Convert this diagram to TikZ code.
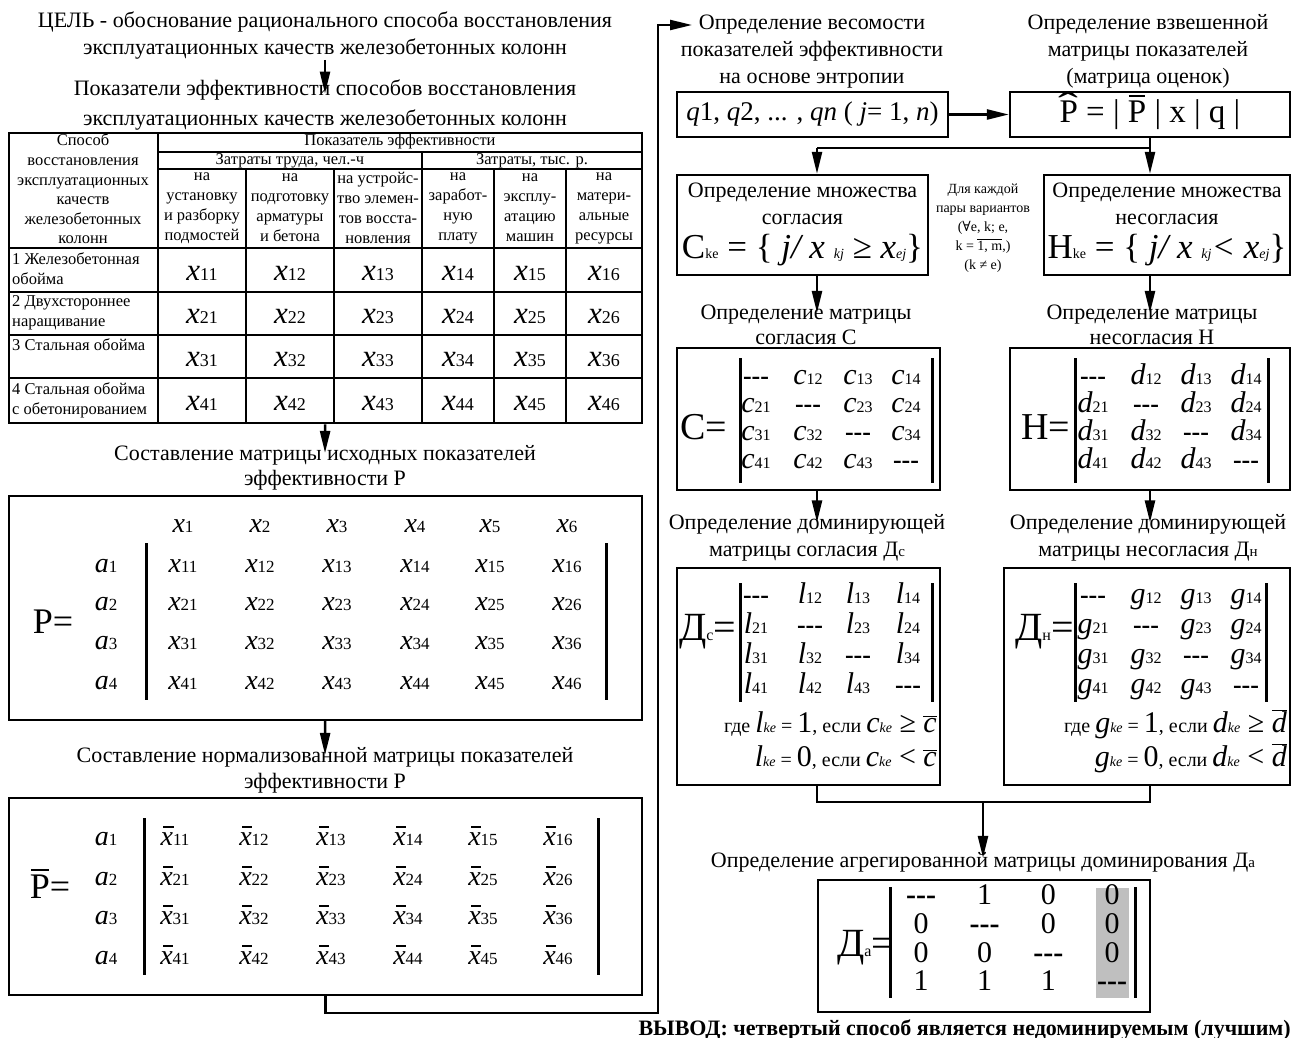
\documentclass[tikz,border=0pt]{standalone}
\usepackage{fontspec}
\setmainfont{Liberation Serif}
\newfontfamily\symfont{DejaVu Serif}
\usetikzlibrary{arrows.meta, positioning, calc}
\definecolor{MarkGray}{RGB}{191, 191, 191}

\newcommand{\sz}[1]{\fontsize{#1}{#1}\selectfont}
\newcommand{\ent}[4]{{\sz{#1}\itshape #3}{\sz{#2}#4}}
\newcommand{\xbar}{\ooalign{\itshape x\cr\hidewidth\kern0.12em\rule[0.62em]{0.36em}{0.06em}\hidewidth\cr}}
\newcommand{\entbar}[3]{{\sz{#1}\xbar}{\sz{#2}#3}}
\newcommand{\Pbar}{\ooalign{Р\cr\hidewidth\rule[0.78em]{0.5em}{0.05em}\hidewidth\cr}}
\newcommand{\Phat}{\ooalign{Р\cr\hidewidth\raise0.1em\hbox{\scalebox{1.8}[1.2]{ˆ}}\hidewidth\cr}}
\newcommand{\dsh}{{\bfseries -{}-{}-}}

\tikzset{
  frame/.style={draw, line width=2.4pt, inner sep=0pt},
  flow/.style={line width=2.4pt, -{Triangle[length=22pt, width=10pt]}},
  link/.style={line width=2.4pt},
  rule/.style={line width=2pt},
  bar/.style={line width=3pt},
  head/.style={align=center, inner sep=0pt, font=\fontsize{22}{27}\selectfont},
  cell/.style={align=center, inner sep=0pt, font=\fontsize{16.5}{20}\selectfont},
  rowlab/.style={align=left, inner sep=0pt, anchor=north west, font=\fontsize{16.5}{20}\selectfont},
  entry/.style={inner sep=0pt, anchor=base},
}

\begin{document}
\begin{tikzpicture}[x=1pt, y=-1pt]
\useasboundingbox (0,0) rectangle (1299,1038);

% ---- left column: goal and table
\node[head] (goal) at (325,36) {ЦЕЛЬ - обоснование рационального способа восстановления\\эксплуатационных качеств железобетонных колонн};
\node[head, font=\fontsize{22}{30}\selectfont] (indic) at (325,105) {Показатели эффективности способов восстановления\\эксплуатационных качеств железобетонных колонн};
\draw[flow, shorten >=-14pt] (goal) -- (indic);

\node[draw, line width=2.6pt, inner sep=0pt, minimum width=633pt, minimum height=290pt] (tbl) at (325.5,278) {};
\draw[rule] (158,133) -- (158,423);
\draw[rule] (158,152) -- (642,152);
\draw[rule] (158,169) -- (642,169);
\draw[rule] (422,152) -- (422,423);
\foreach \cx in {246,334,494,566}
  \draw[rule] (\cx,169) -- (\cx,423);
\foreach \ry in {248,292,335,378}
  \draw[rule] (9,\ry) -- (642,\ry);

\node[cell, font=\fontsize{16.5}{19.6}\selectfont] (tHead) at (83,189) {Способ\\восстановления\\эксплуатационных\\качеств\\железобетонных\\колонн};
\node[cell] (tIndex) at (400,142) {Показатель эффективности};
\node[cell] (tLabour) at (290,160.5) {Затраты труда, чел.-ч};
\node[cell] (tCost) at (532,160.5) {Затраты, тыс. р.};
\node[cell] (s1) at (202,208) {на\\установку\\и разборку\\подмостей};
\node[cell] (s2) at (290,208) {на\\подготовку\\арматуры\\и бетона};
\node[cell] (s3) at (378,208) {на устройс-\\тво элемен-\\тов восста-\\новления};
\node[cell] (s4) at (458,208) {на\\заработ-\\ную\\плату};
\node[cell] (s5) at (530,208) {на\\эксплу-\\атацию\\машин};
\node[cell] (s6) at (604,208) {на\\матери-\\альные\\ресурсы};
\node[rowlab] (r1) at (12,252) {1 Железобетонная\\обойма};
\node[rowlab] (r2) at (12,295) {2 Двухстороннее\\наращивание};
\node[rowlab] (r3) at (12,338) {3 Стальная обойма};
\node[rowlab] (r4) at (12,382) {4 Стальная обойма\\с обетонированием};
\foreach \cx [count=\col] in {202,290,378,458,530,604}
  \foreach \ry [count=\row] in {272,315,358,402}
    \node[entry] (t\row\col) at (\cx,\ry+8) {\ent{31}{18}{x}{\row\col}};

% ---- matrix P
\node[head, font=\fontsize{22}{25}\selectfont] (hMatP) at (325,467.5) {Составление матрицы исходных показателей\\эффективности Р};
\draw[flow, shorten >=-8pt] (tbl) -- (hMatP);
\node[frame, minimum width=633pt, minimum height=224pt] (matP) at (325.5,608) {};
\node[inner sep=0pt, font=\sz{36}] (eqP) at (53,622) {Р=};
\foreach \cx [count=\col] in {183,260,337,415,490,567}
  \node[entry] (px\col) at (\cx,532) {\ent{28}{17}{x}{\col}};
\foreach \ry [count=\row] in {565,603,642,682}
  \node[entry] (pa\row) at (106,\ry+7) {\ent{28}{17}{a}{\row}};
\foreach \cx [count=\col] in {183,260,337,415,490,567}
  \foreach \ry [count=\row] in {565,603,642,682}
    \node[entry] (p\row\col) at (\cx,\ry+7) {\ent{28}{17}{x}{\row\col}};
\draw[bar] (146,543) -- (146,700);
\draw[bar] (606,543) -- (606,700);

% ---- normalised matrix
\node[head, font=\fontsize{22}{26}\selectfont] (hNorm) at (325,770) {Составление нормализованной матрицы показателей\\эффективности Р};
\draw[flow, shorten >=-8pt] (matP) -- (hNorm);
\node[frame, minimum width=633pt, minimum height=197pt] (matN) at (325.5,896.5) {};
\node[inner sep=0pt, font=\sz{36}] (eqN) at (50,887) {\Pbar=};
\foreach \ry [count=\row] in {838,878,917,957}
  \node[entry] (na\row) at (106,\ry+7) {\ent{28}{17}{a}{\row}};
\foreach \cx [count=\col] in {175,254,331,408,483,558}
  \foreach \ry [count=\row] in {838,878,917,957}
    \node[entry] (n\row\col) at (\cx,\ry+7) {\entbar{28}{17}{\row\col}};
\draw[bar] (144,818) -- (144,975);
\draw[bar] (598,818) -- (598,975);

% ---- loop to the right column
\coordinate (turn) at (658,1013);
\coordinate (wIn) at (692,25);
\draw[flow] (matN.south) |- (turn) |- (wIn);

% ---- weights and score matrix
\node[head] (hWeight) at (812,51.5) {Определение весомости\\показателей эффективности\\на основе энтропии};
\node[head] (hScore) at (1148,51.5) {Определение взвешенной\\матрицы показателей\\(матрица оценок)};
\node[frame, minimum width=271pt, minimum height=45pt, font=\sz{27}] (qbox) at (812.5,114.5)
  {\itshape q\upshape 1, \itshape q\upshape 2, ... , \itshape qn \upshape( \itshape j\upshape = 1, \itshape n\upshape)};
\node[frame, minimum width=280pt, minimum height=45pt, font=\sz{33}] (phat) at (1150,114.5)
  {\Phat\ = | \Pbar\ | x | q |};
\draw[flow] (qbox) -- (phat);

% ---- concordance / discordance sets
\node[frame, minimum width=251pt, minimum height=100pt] (setC) at (802.5,225) {};
\node[head] (setCt) at (802.5,203.5) {Определение множества\\согласия};
\node[inner sep=0pt] (setCf) at (802.5,250)
  {\sz{35}С\sz{14}ke\sz{35} = \{ \itshape j/ x \sz{14}kj\sz{35} ≥ x\sz{14}ej\sz{35}\upshape\}};
\node[frame, minimum width=246pt, minimum height=100pt] (setH) at (1167,225) {};
\node[head] (setHt) at (1167,203.5) {Определение множества\\несогласия};
\node[inner sep=0pt] (setHf) at (1167,250)
  {\sz{35}Н\sz{14}ke\sz{35} = \{ \itshape j/ x \sz{14}kj\sz{35}< x\sz{14}ej\sz{35}\upshape\}};
\node[align=center, inner sep=0pt, font=\fontsize{14}{19}\selectfont] (note) at (983,228)
  {Для каждой\\пары вариантов\\({\symfont ∀}e, k; e,\\k = $\overline{\hbox{1, m}}$,)\\(k ≠ e)};

\coordinate (split) at (817,148);
\draw[link] (phat.south) -- (phat.south |- split) -- (split);
\draw[flow] (split) -- (split |- setC.north);
\draw[flow] (phat.south |- split) -- (phat.south |- setH.north);

% ---- matrices C and H
\node[head, font=\fontsize{22}{25}\selectfont] (hC) at (806,325) {Определение матрицы\\согласия С};
\node[head, font=\fontsize{22}{25}\selectfont] (hH) at (1152,325) {Определение матрицы\\несогласия Н};
\draw[flow, shorten >=-8pt] (setC.south -| split) -- (hC.north -| split);
\draw[flow, shorten >=-8pt] (setH.south -| phat.south) -- (hH.north -| phat.south);

\node[frame, minimum width=263pt, minimum height=142pt] (matC) at (808.5,419) {};
\node[inner sep=0pt, anchor=west, font=\sz{38}] (eqC) at (680,427) {С=};
\foreach \cx [count=\col] in {756,808,858,906}
  \foreach \ry [count=\row] in {376,404,432,460}
    \node[entry, font=\sz{26}] (c\row\col) at (\cx,\ry+8) {\ifnum\row=\col\dsh\else\ent{30}{16}{c}{\row\col}\fi};
\draw[bar] (740,358) -- (740,483);
\draw[bar] (932,358) -- (932,483);

\node[frame, minimum width=280pt, minimum height=142pt] (matH) at (1150,419) {};
\node[inner sep=0pt, anchor=west, font=\sz{38}] (eqH) at (1021,427) {Н=};
\foreach \cx [count=\col] in {1093,1146,1196,1246}
  \foreach \ry [count=\row] in {376,404,432,460}
    \node[entry, font=\sz{26}] (d\row\col) at (\cx,\ry+8) {\ifnum\row=\col\dsh\else\ent{30}{16}{d}{\row\col}\fi};
\draw[bar] (1075,358) -- (1075,483);
\draw[bar] (1268,358) -- (1268,483);

% ---- dominance matrices
\node[head] (hDC) at (807,538) {Определение доминирующей\\матрицы согласия Д{\sz{15}с}};
\node[head] (hDH) at (1148,538) {Определение доминирующей\\матрицы несогласия Д{\sz{15}н}};
\draw[flow, shorten >=-8pt] (matC.south -| split) -- (hDC.north -| split);
\draw[flow, shorten >=-8pt] (matH.south -| phat.south) -- (hDH.north -| phat.south);

\node[frame, minimum width=263pt, minimum height=217pt] (domC) at (808.5,676.5) {};
\node[inner sep=0pt, anchor=west, font=\sz{40}] (eqDC) at (679,632) {Д{\sz{16}с}=};
\foreach \cx [count=\col] in {756,810,858,908}
  \foreach \ry [count=\row] in {595,625,655,685}
    \node[entry, font=\sz{26}] (l\row\col) at (\cx,\ry+8) {\ifnum\row=\col\dsh\else\ent{30}{16}{l}{\row\col}\fi};
\draw[bar] (740,583) -- (740,702);
\draw[bar] (932,583) -- (932,702);
\node[inner sep=0pt, anchor=base east] (ruleC1) at (937,732)
  {\sz{20}где \ent{30}{14}{l}{\itshape ke}\sz{20} = \sz{30}1\sz{20}, если \ent{30}{14}{c}{\itshape ke}\sz{30} ≥ $\overline{\hbox{\itshape c}}$};
\node[inner sep=0pt, anchor=base east] (ruleC2) at (937,766)
  {\ent{30}{14}{l}{\itshape ke}\sz{20} = \sz{30}0\sz{20}, если \ent{30}{14}{c}{\itshape ke}\sz{30} < $\overline{\hbox{\itshape c}}$};

\node[frame, minimum width=286pt, minimum height=217pt] (domH) at (1147,676.5) {};
\node[inner sep=0pt, anchor=west, font=\sz{40}] (eqDH) at (1015,632) {Д{\sz{16}н}=};
\foreach \cx [count=\col] in {1093,1146,1196,1246}
  \foreach \ry [count=\row] in {595,625,655,685}
    \node[entry, font=\sz{26}] (g\row\col) at (\cx,\ry+8) {\ifnum\row=\col\dsh\else\ent{30}{16}{g}{\row\col}\fi};
\draw[bar] (1075,583) -- (1075,702);
\draw[bar] (1266,583) -- (1266,702);
\node[inner sep=0pt, anchor=base east] (ruleH1) at (1287,732)
  {\sz{20}где \ent{30}{14}{g}{\itshape ke}\sz{20} = \sz{30}1\sz{20}, если \ent{30}{14}{d}{\itshape ke}\sz{30} ≥ $\overline{\hbox{\itshape d}}$};
\node[inner sep=0pt, anchor=base east] (ruleH2) at (1287,766)
  {\ent{30}{14}{g}{\itshape ke}\sz{20} = \sz{30}0\sz{20}, если \ent{30}{14}{d}{\itshape ke}\sz{30} < $\overline{\hbox{\itshape d}}$};

% ---- aggregated matrix
\coordinate (merge) at (983,802);
\draw[link] (domC.south -| split) |- (merge);
\draw[link] (domH.south -| phat.south) |- (merge);
\node[head] (hAgg) at (983,862) {Определение агрегированной матрицы доминирования Д{\sz{15}а}};
\draw[flow, shorten >=-6pt] (merge) -- (hAgg);

\node[frame, minimum width=332pt, minimum height=132pt] (agg) at (984,946) {};
\fill[MarkGray] (1096,888) rectangle (1129,998);
\node[inner sep=0pt, anchor=west, font=\sz{40}] (eqA) at (837,948) {Д{\sz{16}а}=};
\foreach \vals [count=\row] in {{\dsh,1,0,0},{0,\dsh,0,0},{0,0,\dsh,0},{1,1,1,\dsh}}
  \foreach \v [count=\col] in \vals
    \node[entry, font=\sz{30}] (v\row\col) at ({857.3+63.7*\col},{876+28.7*\row}) {\v};
\draw[bar] (890,887) -- (890,998);
\draw[bar] (1135,887) -- (1135,998);

\node[inner sep=0pt, anchor=base east, font=\bfseries\sz{22}] (concl) at (1291,1035) {ВЫВОД: четвертый способ является недоминируемым (лучшим)};
\end{tikzpicture}
\end{document}
